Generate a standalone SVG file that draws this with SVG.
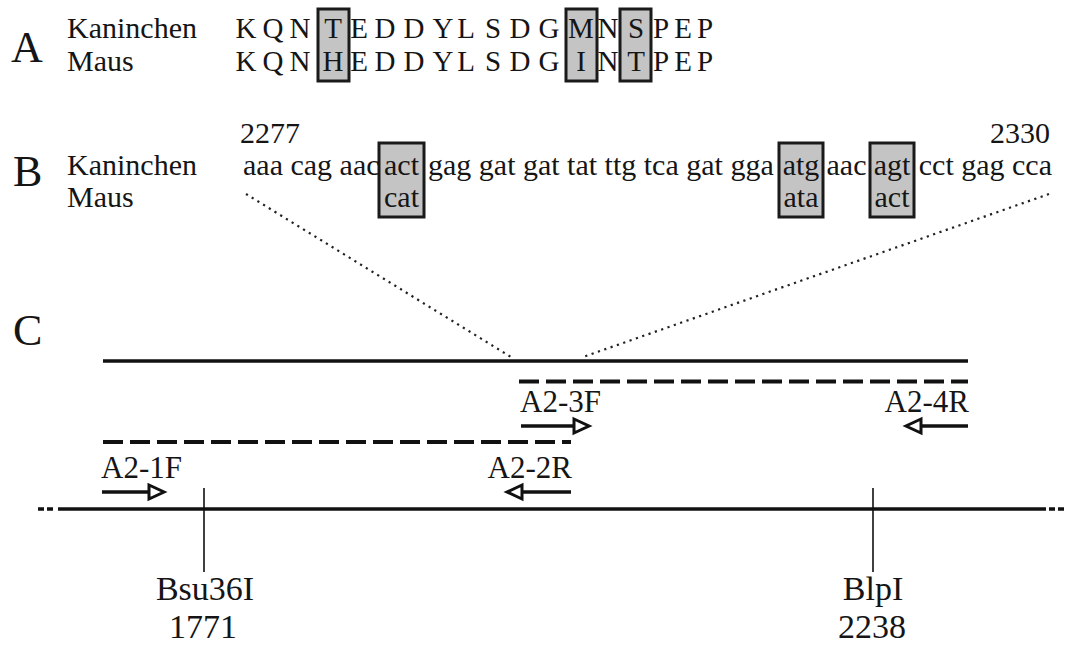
<svg xmlns="http://www.w3.org/2000/svg" width="1066" height="646" viewBox="0 0 1066 646">
<style>
text{font-family:"Liberation Serif","Times New Roman",serif;fill:#151515}
.big{font-size:44px}
.t{font-size:30px}
.p{font-size:31px}
.s{font-size:34px}
.aa{font-size:29px}
.box{fill:#c4c4c4;stroke:#1a1a1a;stroke-width:3}
.ln{stroke:#111;stroke-width:3.5;fill:none}
.dash{stroke:#111;stroke-width:4;fill:none;stroke-dasharray:20 7}
.dot{stroke:#222;stroke-width:2.2;fill:none;stroke-dasharray:2.2 4.5}
.tick{stroke:#111;stroke-width:1.6}
.head{fill:#fff;stroke:#111;stroke-width:3;stroke-linejoin:miter}
</style>
<rect width="1066" height="646" fill="#fff"/>

<g id="panelA">
  <rect class="box" x="318" y="9" width="31" height="72"/>
  <rect class="box" x="566" y="9" width="31" height="72"/>
  <rect class="box" x="620" y="9" width="31" height="72"/>
  <text class="big" x="11" y="62">A</text>
  <text class="t" x="67" y="38">Kaninchen</text>
  <text class="t" x="67" y="71">Maus</text>
  <text class="aa" text-anchor="middle" y="38" x="246 273 300 333 359 385 414 443 466 493 520 549 581 608 636 661 683 705">KQNTEDDYLSDGMNSPEP</text>
  <text class="aa" text-anchor="middle" y="71" x="246 273 300 333 359 385 414 443 466 493 520 549 581 608 636 661 683 705">KQNHEDDYLSDGINTPEP</text>
</g>

<g id="panelB">
  <rect class="box" x="379" y="143" width="45" height="74"/>
  <rect class="box" x="779" y="143" width="44" height="74"/>
  <rect class="box" x="870" y="143" width="44" height="74"/>
  <text class="big" x="13" y="186">B</text>
  <text class="t" x="240" y="143">2277</text>
  <text class="t" x="1050" y="143" text-anchor="end">2330</text>
  <text class="t" x="67" y="175">Kaninchen</text>
  <text class="t" x="67" y="207">Maus</text>
  <text class="t" x="243" y="175">aaa cag aac</text>
  <text class="t" x="401.5" y="175" text-anchor="middle">act</text>
  <text class="t" x="428" y="175">gag gat gat tat ttg tca gat gga</text>
  <text class="t" x="801" y="175" text-anchor="middle">atg</text>
  <text class="t" x="846.5" y="175" text-anchor="middle">aac</text>
  <text class="t" x="892" y="175" text-anchor="middle">agt</text>
  <text class="t" x="1052" y="175" text-anchor="end">cct gag cca</text>
  <text class="t" x="401.5" y="207" text-anchor="middle">cat</text>
  <text class="t" x="801" y="207" text-anchor="middle">ata</text>
  <text class="t" x="892" y="207" text-anchor="middle">act</text>
</g>

<g id="panelC">
  <text class="big" x="13" y="345">C</text>
  <g id="connectors">
    <line class="dot" x1="246" y1="194" x2="511" y2="357"/>
    <line class="dot" x1="1049" y1="194" x2="583" y2="357"/>
  </g>
  <g id="fragment-long">
    <line class="ln" x1="103" y1="361" x2="968" y2="361"/>
  </g>
  <g id="fragment-3F-4R">
    <line class="dash" x1="519" y1="381.5" x2="968" y2="381.5"/>
  </g>
  <g id="fragment-1F-2R">
    <line class="dash" x1="103" y1="442" x2="571" y2="442"/>
  </g>
  <g id="primer-A2-3F">
    <text class="p" x="520" y="412">A2-3F</text>
    <line class="ln" stroke-width="4" x1="521" y1="426" x2="574" y2="426"/>
    <path class="head" d="M574 419 L589 426 L574 433 Z"/>
  </g>
  <g id="primer-A2-4R">
    <text class="p" x="969" y="412" text-anchor="end">A2-4R</text>
    <line class="ln" stroke-width="4" x1="968" y1="426" x2="921" y2="426"/>
    <path class="head" d="M921 419 L906 426 L921 433 Z"/>
  </g>
  <g id="primer-A2-1F">
    <text class="p" x="101" y="478">A2-1F</text>
    <line class="ln" stroke-width="4" x1="102" y1="492" x2="149" y2="492"/>
    <path class="head" d="M149 485 L164 492 L149 499 Z"/>
  </g>
  <g id="primer-A2-2R">
    <text class="p" x="572" y="478" text-anchor="end">A2-2R</text>
    <line class="ln" stroke-width="4" x1="571" y1="492" x2="522" y2="492"/>
    <path class="head" d="M522 485 L507 492 L522 499 Z"/>
  </g>
  <g id="genome">
    <line class="ln" x1="58" y1="509" x2="1046" y2="509"/>
    <line class="ln" x1="38" y1="509" x2="55" y2="509" stroke-dasharray="6 3"/>
    <line class="ln" x1="1049" y1="509" x2="1066" y2="509" stroke-dasharray="6 3"/>
  </g>
  <g id="site-Bsu36I">
    <line class="tick" x1="204" y1="488" x2="204" y2="572"/>
    <text class="s" x="205" y="600" text-anchor="middle">Bsu36I</text>
    <text class="s" x="203" y="638" text-anchor="middle">1771</text>
  </g>
  <g id="site-BlpI">
    <line class="tick" x1="873" y1="488" x2="873" y2="572"/>
    <text class="s" x="873" y="600" text-anchor="middle">BlpI</text>
    <text class="s" x="872" y="638" text-anchor="middle">2238</text>
  </g>
</g>
</svg>
